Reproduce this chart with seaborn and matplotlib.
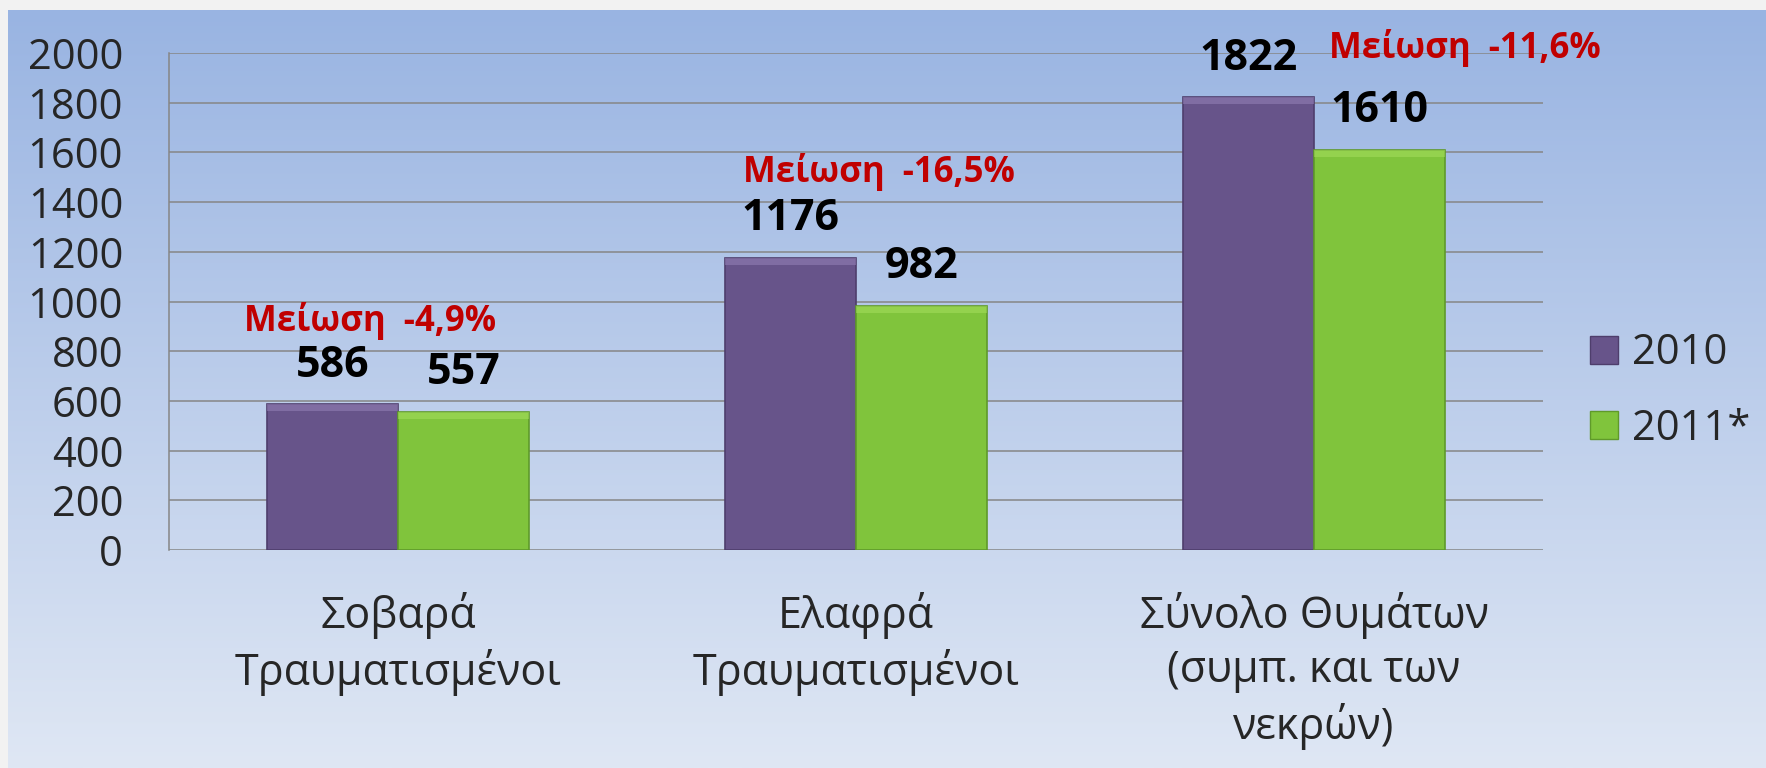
import numpy as np
import pandas as pd
import matplotlib
matplotlib.use("Agg")
import matplotlib.pyplot as plt
import seaborn as sns

# data
categories = ["Σοβαρά\nΤραυματισμένοι", "Ελαφρά\nΤραυματισμένοι",
              "Σύνολο Θυμάτων\n(συμπ. και των\nνεκρών)"]
series = ["2010", "2011*"]
values_2010 = [586, 1176, 1822]
values_2011 = [557, 982, 1610]
notes = ["Μείωση  -4,9%", "Μείωση  -16,5%", "Μείωση  -11,6%"]
yticks = [0, 200, 400, 600, 800, 1000, 1200, 1400, 1600, 1800, 2000]

df = pd.DataFrame({
    "cat": categories * 2,
    "year": [series[0]] * 3 + [series[1]] * 3,
    "value": values_2010 + values_2011,
})

sns.set_style("white")
plt.rcParams["font.family"] = ["Open Sans", "DejaVu Sans"]

fig = plt.figure(figsize=(17.66, 7.68), dpi=100)
fig.patch.set_facecolor("#f2f2f2")

# gradient panel behind the chart
bg = fig.add_axes([8 / 1766, 0, 1 - 8 / 1766, 1 - 10 / 768], zorder=-10)
grad = np.linspace(0, 1, 256).reshape(-1, 1)
cmap = matplotlib.colors.LinearSegmentedColormap.from_list("bg", ["#99b4e2", "#dfe7f4"])
bg.imshow(grad, aspect="auto", cmap=cmap, extent=[0, 1, 0, 1], origin="upper")
bg.set_axis_off()

ax = fig.add_axes([169 / 1766, 1 - 550 / 768, (1543 - 169) / 1766, (550 - 53) / 768])
ax.set_facecolor("none")

purple = "#67548a"
green = "#80c43c"
sns.barplot(data=df, x="cat", y="value", hue="year", palette=[purple, green],
            width=0.57, ax=ax, zorder=3, saturation=1)

edges = ["#4e3e6c", "#5f9a2a"]
tops = ["#9a86bd", "#a8e060"]
for cont, ec, tc in zip(ax.containers, edges, tops):
    for p in cont:
        p.set_edgecolor(ec)
        p.set_linewidth(1.2)
        x0, w, h = p.get_x(), p.get_width(), p.get_height()
        ax.add_patch(plt.Rectangle((x0, h - 28), w, 28, facecolor=tc, alpha=0.5,
                                   lw=0, zorder=4))
        ax.text(x0 + w / 2, h + 157, f"{int(h)}", ha="center", va="center",
                fontsize=31, fontweight="bold", color="black", zorder=5)

note_x = [-0.06, 1.05, 2.33]
note_y = [921, 1521, 2021]
for nx, ny, t in zip(note_x, note_y, notes):
    ax.text(nx, ny, t, ha="center", va="center", fontsize=25, fontweight="bold",
            color="#c00000", zorder=5, clip_on=False)

ax.set_ylim(0, 2000)
ax.set_xlim(-0.5, 2.5)
ax.set_yticks(yticks)
ax.set_yticklabels([str(v) for v in yticks], fontsize=30)
ax.set_xticks(range(3))
ax.set_xticklabels(categories, fontsize=31, linespacing=1.28)
ax.set_xticks([-0.5, 0.5, 1.5, 2.5], minor=True)
ax.tick_params(axis="x", which="major", length=0, pad=30)
ax.tick_params(axis="x", which="minor", length=11, width=1.1, color="#868686")
ax.tick_params(axis="y", length=11, width=1.1, color="#868686", pad=22)
ax.set_xlabel("")
ax.set_ylabel("")
ax.grid(axis="y", color="#868686", lw=1.1, zorder=1)
ax.set_axisbelow(True)
for s in ["top", "right", "bottom"]:
    ax.spines[s].set_visible(False)
ax.spines["left"].set_color("#868686")
ax.spines["left"].set_linewidth(1.1)

handles, labels = ax.get_legend_handles_labels()
for h, ec in zip(handles, edges):
    h.set_edgecolor(ec)
ax.legend(handles, labels, loc="center left", bbox_to_anchor=(1590 / 1766, 1 - 391 / 768),
          bbox_transform=fig.transFigure, frameon=False, fontsize=30,
          borderpad=0, borderaxespad=0,
          handlelength=0.67, handleheight=0.67, handletextpad=0.34, labelspacing=0.8)

fig.savefig("out.png", dpi=100, facecolor=fig.get_facecolor())
